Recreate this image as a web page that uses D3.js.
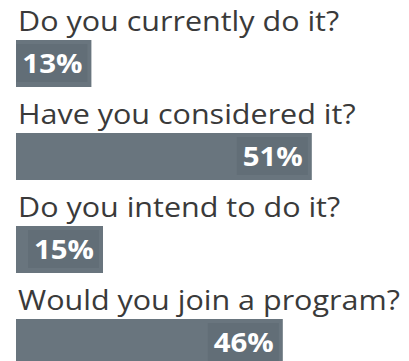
<!DOCTYPE html>
<html>
<head>
<meta charset="utf-8">
<script src="https://cdn.jsdelivr.net/npm/d3@7"></script>
<style>
  body { margin: 0; background: #fff; }
  .q { font-family: "Open Sans", sans-serif; font-size: 27px; fill: #3a3a3a; }
  .pct { font-family: "Open Sans", sans-serif; font-size: 26px; font-weight: bold; fill: #fff; }
</style>
</head>
<body>
<div class="canvas"></div>
<script>
// questions and answers
var questions = ["Do you currently do it?", "Have you considered it?", "Do you intend to do it?", "Would you join a program?"];
var percents = [13, 51, 15, 46];

var width = 409;
var height = 361;
var stretch = 1.13; // the original picture is a bit wider than tall

var svg = d3.select(".canvas")
  .append("svg")
    .attr("width", width)
    .attr("height", height);

// one row per question
var yscale = d3.scaleBand()
  .domain(questions)
  .range([0, 372]);

// percent -> bar length
var xscale = d3.scaleLinear()
  .domain([0, 100])
  .range([16, 596]);

var rows = svg.selectAll("g.row")
  .data(questions)
  .enter()
  .append("g")
    .attr("class", "row")
    .attr("transform", function(d) { return "translate(0," + yscale(d) + ")"; });

rows.append("text")
  .attr("class", "q")
  .attr("transform", "translate(18,31) scale(" + stretch + ",1)")
  .text(function(d) { return d; });

rows.append("rect")
  .attr("fill", "#69757e")
  .attr("x", xscale(0))
  .attr("y", 40)
  .attr("width", function(d, i) { return xscale(percents[i]) - xscale(0); })
  .attr("height", 47);

// slightly darker box behind the number
rows.append("rect")
  .attr("fill", "#626e77")
  .attr("x", function(d, i) { return xscale(percents[i]) - 75; })
  .attr("y", 44)
  .attr("width", 71)
  .attr("height", 38);

rows.append("text")
  .attr("class", "pct")
  .attr("text-anchor", "end")
  .attr("transform", function(d, i) {
    return "translate(" + (xscale(percents[i]) - 9) + ",73) scale(" + stretch + ",1)";
  })
  .text(function(d, i) { return percents[i] + "%"; });
</script>
</body>
</html>
